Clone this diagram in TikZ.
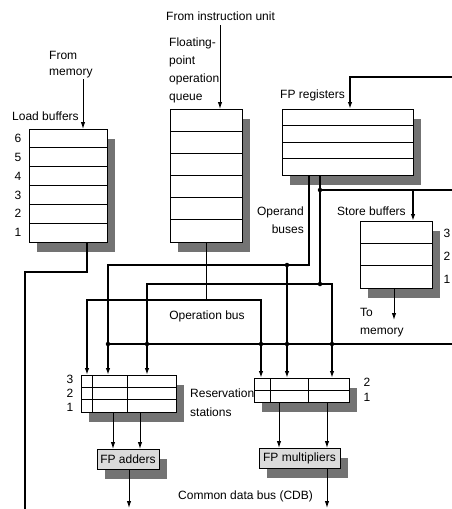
\documentclass[tikz,border=0pt]{standalone}
\usepackage{fontspec}
\setmainfont{Liberation Sans}
\usetikzlibrary{arrows.meta,patterns,calc,backgrounds}
\pgfdeclarepatternformonly{checker}{\pgfqpoint{0pt}{0pt}}{\pgfqpoint{2pt}{2pt}}{\pgfqpoint{2pt}{2pt}}{%
\pgfpathrectangle{\pgfqpoint{0pt}{0pt}}{\pgfqpoint{1pt}{1pt}}%
\pgfpathrectangle{\pgfqpoint{1pt}{1pt}}{\pgfqpoint{1pt}{1pt}}%
\pgfusepath{fill}}
\begin{document}
\begin{tikzpicture}[x=1pt,y=-1pt,
  box/.style={draw, line width=1pt, fill=white, inner sep=0pt, outer sep=0pt, anchor=north west},
  unitbox/.style={box, fill=black!14, font=\fontsize{12}{14}\selectfont},
  lbl/.style={inner sep=0pt, font=\fontsize{12}{18}\selectfont},
  bus/.style={line width=2.2pt},
  midline/.style={line width=1.8pt},
  thinline/.style={line width=1pt},
  arr/.style={-{Latex[length=7pt,width=4.5pt]}},
  arrboth/.style={{Latex[length=7pt,width=4.5pt]}-{Latex[length=7pt,width=4.5pt]}},
  jdot/.style={circle, fill, inner sep=0pt, minimum size=4.5pt},
  shade/.style={fill=black!55}
]
\useasboundingbox (0,0) rectangle (452,509);

% ---- boxes
\node[box, minimum width=78pt, minimum height=113pt] (lb) at (29,129) {};
\node[box, minimum width=72pt, minimum height=133pt] (oq) at (170,109) {};
\node[box, minimum width=131pt, minimum height=66pt] (fr) at (282,109) {};
\node[box, minimum width=72pt, minimum height=67pt] (sb) at (360,221) {};
\node[box, minimum width=95pt, minimum height=37pt] (ars) at (81,375) {};
\node[box, minimum width=95pt, minimum height=24pt] (mrs) at (254,378) {};
\node[unitbox, minimum width=62pt, minimum height=20pt] (fa) at (97,449) {FP adders};
\node[unitbox, minimum width=81pt, minimum height=20pt] (fm) at (259,448) {FP multipliers};

% ---- shadows
\begin{scope}[on background layer]
  \fill[white] (0,0) rectangle (452,509);
  \foreach \n in {lb,oq,fr,sb,ars,mrs,fa,fm}
    \fill[shade] ($(\n.north west)+(8,10)$) rectangle ($(\n.south east)+(8,10)$);
\end{scope}

% ---- rows and columns
\foreach \k in {1,...,5}
  \draw[thinline] ($(lb.north west)!\k/6!(lb.south west)$) -- ($(lb.north east)!\k/6!(lb.south east)$);
\foreach \k in {1,...,5}
  \draw[thinline] ($(oq.north west)!\k/6!(oq.south west)$) -- ($(oq.north east)!\k/6!(oq.south east)$);
\foreach \k in {1,...,3}
  \draw[thinline] ($(fr.north west)!\k/4!(fr.south west)$) -- ($(fr.north east)!\k/4!(fr.south east)$);
\foreach \k in {1,2}
  \draw[thinline] ($(sb.north west)!\k/3!(sb.south west)$) -- ($(sb.north east)!\k/3!(sb.south east)$);
\foreach \k in {1,2}
  \draw[thinline] ($(ars.north west)!\k/3!(ars.south west)$) -- ($(ars.north east)!\k/3!(ars.south east)$);
\draw[thinline] ($(mrs.north west)!0.5!(mrs.south west)$) -- ($(mrs.north east)!0.5!(mrs.south east)$);
\foreach \dx in {11,46}
  \draw[thinline] ($(ars.north west)+(\dx,0)$) -- ($(ars.south west)+(\dx,0)$);
\foreach \dx in {16,54}
  \draw[thinline] ($(mrs.north west)+(\dx,0)$) -- ($(mrs.south west)+(\dx,0)$);

% ---- labels
\node[lbl, anchor=west] (tiu) at (166,16) {From instruction unit};
\node[lbl, anchor=west, align=left] (tfq) at (169,70) {Floating-\\point\\operation\\queue};
\node[lbl, anchor=west, align=left, font=\fontsize{12}{16}\selectfont] (tfm) at (49,65) {From\\memory};
\node[lbl, anchor=west] (tlb) at (12,116) {Load buffers};
\node[lbl, anchor=west] (tfr) at (280,95) {FP registers};
\node[lbl, anchor=east, align=right] (tob) at (304,220) {Operand\\buses};
\node[lbl, anchor=west] (tsb) at (337,211) {Store buffers};
\node[lbl, anchor=west, align=left] (ttm) at (360,322.5) {To\\memory};
\node[lbl] (top) at (207,316) {Operation bus};
\node[lbl, anchor=west, align=left, font=\fontsize{12}{19}\selectfont] (trs) at (190,402.5) {Reservation\\stations};
\node[lbl, anchor=west] (tcdb) at (178,496) {Common data bus (CDB)};
\foreach \d [count=\i] in {6,5,4,3,2,1}
  \node[lbl] (lbn\d) at (18,{129+113*(\i-0.5)/6}) {\d};
\foreach \d/\y in {3/233,2/256,1/279}
  \node[lbl] (sbn\d) at (447,\y) {\d};
\foreach \d/\y in {3/379,2/393,1/407}
  \node[lbl] (arn\d) at (70,\y) {\d};
\foreach \d/\y in {2/382,1/397}
  \node[lbl] (mrn\d) at (367,\y) {\d};

% ---- coordinates
\coordinate (fm0) at (83,79);
\coordinate (iu0) at (220,25);
\coordinate (rin) at (452,77);
\coordinate (rin2) at (350,77);
\coordinate (lo1) at (87,272);
\coordinate (lo2) at (25,509);
\coordinate (ob) at (206,300);
\coordinate (c1) at (87,300);
\coordinate (c2) at (261,300);
\coordinate (a0) at (309,265);
\coordinate (a1) at (108,265);
\coordinate (a2) at (287,265);
\coordinate (b0) at (320,284);
\coordinate (b1) at (147,284);
\coordinate (b2) at (332,284);
\coordinate (s0) at (320,190);
\coordinate (s1) at (452,190);
\coordinate (s2) at (413,190);
\coordinate (d0) at (108,344);
\coordinate (d1) at (452,344);
\coordinate (tm) at (394,320);
\coordinate (e1) at (113,0);
\coordinate (e2) at (140,0);
\coordinate (fo) at (129,508);
\coordinate (g1) at (279,0);
\coordinate (g2) at (327,0);
\coordinate (go) at (327,508);

% ---- connectors
\draw[thinline, arr] (fm0) -- (fm0 |- lb.north);
\draw[thinline, arr] (iu0) -- (iu0 |- oq.north);
\draw[bus, arr] (rin) -- (rin2) -- (rin2 |- fr.north);
\draw[midline] (lo1 |- lb.south) -- (lo1) -| (lo2);
\draw[thinline] (ob |- oq.south) -- (ob);
\draw[bus, arrboth] (c1 |- ars.north) -- (c1) -- (c2) -- (c2 |- mrs.north);
\draw[bus, arr] (a0 |- fr.south) -- (a0) -- (a1) -- (a1 |- ars.north);
\draw[bus, arr] (a2) -- (a2 |- mrs.north);
\draw[bus, arrboth] (b1 |- ars.north) -- (b1) -- (b2) -- (b2 |- mrs.north);
\draw[bus] (b0 |- fr.south) -- (b0);
\draw[bus] (s0) -- (s1);
\draw[bus, arr] (s2) -- (s2 |- sb.north);
\draw[bus] (d0) -- (d1);
\draw[thinline, arr] (tm |- sb.south) -- (tm);
\draw[thinline, arr] (e1 |- ars.south) -- (e1 |- fa.north);
\draw[thinline, arr] (e2 |- ars.south) -- (e2 |- fa.north);
\draw[thinline, arr] (fo |- fa.south) -- (fo);
\draw[thinline, arr] (g1 |- mrs.south) -- (g1 |- fm.north);
\draw[thinline, arr] (g2 |- mrs.south) -- (g2 |- fm.north);
\draw[thinline, arr] (go |- fm.south) -- (go);

% ---- junction dots
\node[jdot] (j1) at (a2) {};
\node[jdot] (j2) at (b0) {};
\node[jdot] (j3) at (s0) {};
\node[jdot] (j4) at (d0) {};
\node[jdot] (j5) at (b1 |- d0) {};
\node[jdot] (j6) at (c2 |- d0) {};
\node[jdot] (j7) at (a2 |- d0) {};
\node[jdot] (j8) at (b2 |- d0) {};
\end{tikzpicture}
\end{document}
